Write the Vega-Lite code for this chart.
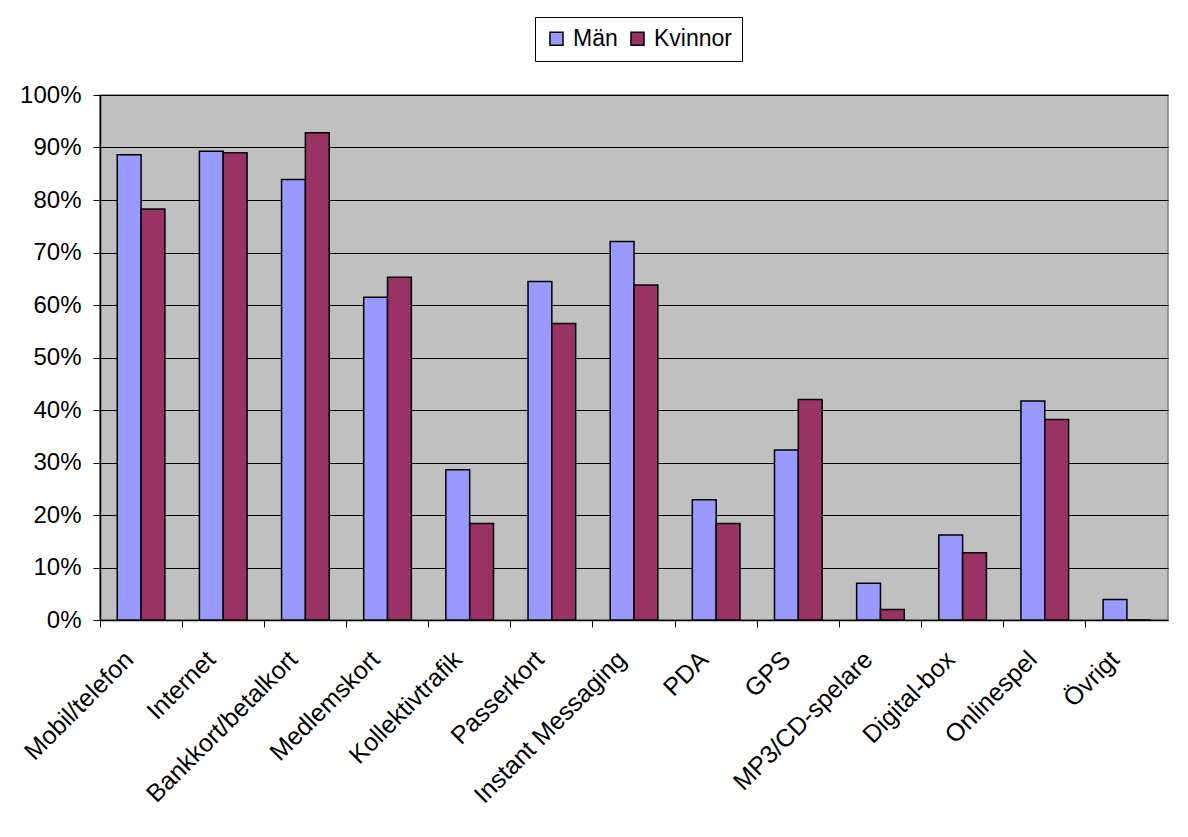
{
  "$schema": "https://vega.github.io/schema/vega-lite/v6.json",
  "autosize": {"type": "none"},
  "width": 1068,
  "height": 525,
  "padding": {"left": 100, "top": 95, "right": 20, "bottom": 217},
  "background": "white",
  "config": {
    "font": "Liberation Sans",
    "view": {"fill": "#C0C0C0", "stroke": "#808080", "strokeWidth": 1.5}
  },
  "data": {
    "values": [
      {"kategori": "Mobil/telefon", "kon": "Män", "andel": 88.6},
      {"kategori": "Mobil/telefon", "kon": "Kvinnor", "andel": 78.3},
      {"kategori": "Internet", "kon": "Män", "andel": 89.3},
      {"kategori": "Internet", "kon": "Kvinnor", "andel": 89.0},
      {"kategori": "Bankkort/betalkort", "kon": "Män", "andel": 83.9},
      {"kategori": "Bankkort/betalkort", "kon": "Kvinnor", "andel": 92.8},
      {"kategori": "Medlemskort", "kon": "Män", "andel": 61.5},
      {"kategori": "Medlemskort", "kon": "Kvinnor", "andel": 65.3},
      {"kategori": "Kollektivtrafik", "kon": "Män", "andel": 28.6},
      {"kategori": "Kollektivtrafik", "kon": "Kvinnor", "andel": 18.4},
      {"kategori": "Passerkort", "kon": "Män", "andel": 64.5},
      {"kategori": "Passerkort", "kon": "Kvinnor", "andel": 56.5},
      {"kategori": "Instant Messaging", "kon": "Män", "andel": 72.1},
      {"kategori": "Instant Messaging", "kon": "Kvinnor", "andel": 63.8},
      {"kategori": "PDA", "kon": "Män", "andel": 22.9},
      {"kategori": "PDA", "kon": "Kvinnor", "andel": 18.4},
      {"kategori": "GPS", "kon": "Män", "andel": 32.4},
      {"kategori": "GPS", "kon": "Kvinnor", "andel": 42.0},
      {"kategori": "MP3/CD-spelare", "kon": "Män", "andel": 7.0},
      {"kategori": "MP3/CD-spelare", "kon": "Kvinnor", "andel": 2.0},
      {"kategori": "Digital-box", "kon": "Män", "andel": 16.2},
      {"kategori": "Digital-box", "kon": "Kvinnor", "andel": 12.8},
      {"kategori": "Onlinespel", "kon": "Män", "andel": 41.7},
      {"kategori": "Onlinespel", "kon": "Kvinnor", "andel": 38.2},
      {"kategori": "Övrigt", "kon": "Män", "andel": 3.9},
      {"kategori": "Övrigt", "kon": "Kvinnor", "andel": 0}
    ]
  },
  "layer": [
    {
      "mark": {"type": "bar", "stroke": "black", "strokeWidth": 1.5},
      "encoding": {
        "x": {
          "field": "kategori",
          "type": "nominal",
          "sort": null,
          "scale": {"paddingInner": 0.42, "paddingOuter": 0.21},
          "axis": {
            "orient": "bottom",
            "title": null,
            "ticks": false,
            "domain": true,
            "domainColor": "black",
            "domainWidth": 1.5,
            "labelAngle": -45,
            "labelAlign": "right",
            "labelBaseline": "middle",
            "labelPadding": 35,
            "labelOffset": -12,
            "labelFontSize": 25,
            "labelLimit": 0,
            "labelColor": "black",
            "labelOverlap": false
          }
        },
        "xOffset": {"field": "kon", "type": "nominal", "sort": ["Män", "Kvinnor"]},
        "y": {
          "field": "andel",
          "type": "quantitative",
          "scale": {"domain": [0, 100], "nice": false},
          "axis": {
            "title": null,
            "values": [0, 10, 20, 30, 40, 50, 60, 70, 80, 90, 100],
            "labelExpr": "datum.value + '%'",
            "grid": true,
            "gridColor": "black",
            "gridWidth": 1,
            "gridOpacity": 1,
            "domainColor": "black",
            "domainWidth": 1.5,
            "tickColor": "black",
            "tickSize": 7,
            "labelPadding": 12,
            "labelFontSize": 24,
            "labelColor": "black"
          }
        },
        "color": {
          "field": "kon",
          "type": "nominal",
          "sort": ["Män", "Kvinnor"],
          "scale": {"domain": ["Män", "Kvinnor"], "range": ["#9999FF", "#993366"]},
          "legend": {
            "title": null,
            "orient": "none",
            "direction": "horizontal",
            "legendX": 435,
            "legendY": -78,
            "strokeColor": "black",
            "fillColor": "white",
            "padding": 10,
            "symbolType": "square",
            "symbolSize": 170,
            "symbolStrokeColor": "black",
            "symbolStrokeWidth": 1.5,
            "symbolOpacity": 1,
            "labelFontSize": 23,
            "labelColor": "black",
            "columnPadding": 8,
            "labelOffset": 5
          }
        }
      }
    },
    {
      "mark": {"type": "tick", "opacity": 0},
      "encoding": {
        "x": {
          "field": "kategori",
          "type": "nominal",
          "sort": null,
          "axis": {
            "orient": "bottom",
            "title": null,
            "labels": false,
            "domain": false,
            "ticks": true,
            "tickColor": "black",
            "tickSize": 7,
            "tickWidth": 1,
            "bandPosition": -0.362
          }
        }
      }
    }
  ],
  "resolve": {"axis": {"x": "independent"}}
}
